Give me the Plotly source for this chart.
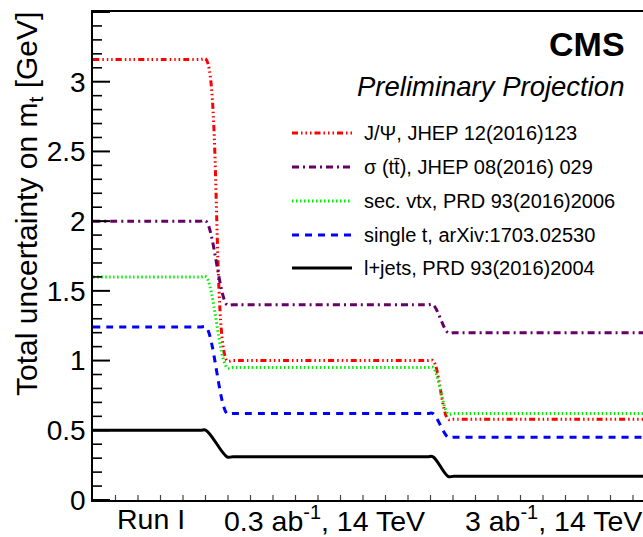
import plotly.graph_objects as go

# ---------------- data ----------------
categories = ["Run I", "0.3 ab<sup>-1</sup>, 14 TeV", "3 ab<sup>-1</sup>, 14 TeV"]
cat_pos = [0.58, 2.31, 4.60]          # label positions on x axis
x_start, x_end = 0.0, 5.6
trans1 = [1.13, 1.34]                   # Run I -> 0.3 ab-1 step
trans2 = [3.40, 3.55]                   # 0.3 ab-1 -> 3 ab-1 step
ease = 0.06                              # corner rounding length

y_major = [0.0, 0.5, 1.0, 1.5, 2.0, 2.5, 3.0, 3.5]
y_minor = [round(0.1 * i, 1) for i in range(36) if i % 5 != 0]
x_minor = [round(0.225 * i, 3) for i in range(1, 25)]

names = [
    "J/Ψ, JHEP 12(2016)123",
    "σ (tt̄), JHEP 08(2016) 029",
    "sec. vtx, PRD 93(2016)2006",
    "single t, arXiv:1703.02530",
    "l+jets, PRD 93(2016)2004",
]
jpsi = [3.16, 1.00, 0.58]
sigma_tt = [2.00, 1.40, 1.20]
sec_vtx = [1.60, 0.95, 0.62]
single_t = [1.24, 0.62, 0.45]
l_jets = [0.50, 0.31, 0.17]
series = [jpsi, sigma_tt, sec_vtx, single_t, l_jets]

colors = ["#ff0000", "#660066", "#00ee00", "#0000ff", "#000000"]
dashes = ["6px,3px,1.5px,3px,1.5px,3px,1.5px,3px", "7px,4px,2px,4px", "1.5px,2.5px", "7px,6px", "solid"]
widths = [3, 3, 3, 3, 3]

FONT = "Liberation Sans, Arial, Helvetica, sans-serif"

fig = go.Figure()
for name, vals, c, d, w in zip(names, series, colors, dashes, widths):
    xs = [x_start, trans1[0] - ease, trans1[0], trans1[1], trans1[1] + ease,
          trans2[0] - ease, trans2[0], trans2[1], trans2[1] + ease, x_end]
    ys = [vals[0], vals[0], vals[0], vals[1], vals[1],
          vals[1], vals[1], vals[2], vals[2], vals[2]]
    fig.add_trace(go.Scatter(x=xs, y=ys, mode="lines", name=name,
                             line=dict(color=c, dash=d, width=w, shape="spline", smoothing=1.0),
                             showlegend=False, hoverinfo="skip"))

# pixel helpers for layout placement
top, bottom = 12, 500
L, W = 93, 550
def py(p):
    return (bottom - p) / (bottom - top)
def px(p):
    return (p - L) / W

# axis tick marks (ROOT style, inside the frame)
for v in y_major:
    fig.add_shape(type="line", xref="paper", yref="y", x0=0, x1=17 / W, y0=v, y1=v,
                  line=dict(color="black", width=2), layer="above")
for v in y_minor:
    fig.add_shape(type="line", xref="paper", yref="y", x0=0, x1=9 / W, y0=v, y1=v,
                  line=dict(color="black", width=1.6), layer="above")
for v in x_minor:
    fig.add_shape(type="line", xref="x", yref="paper", x0=v, x1=v, y0=0, y1=5 / (bottom - top),
                  line=dict(color="#444444", width=1.2), layer="above")

# manual legend
leg_y = [133, 167, 201, 235, 268]
for name, c, d, w, yy in zip(names, colors, dashes, widths, leg_y):
    fig.add_shape(type="line", xref="paper", yref="paper",
                  x0=px(292), x1=px(352), y0=py(yy), y1=py(yy),
                  line=dict(color=c, dash=d, width=w))
    fig.add_annotation(xref="paper", yref="paper", x=px(362), y=py(yy), text=name,
                       showarrow=False, xanchor="left", yanchor="middle",
                       font=dict(family=FONT, size=20, color="black"))

fig.add_annotation(xref="paper", yref="paper", x=px(627), y=py(44), text="<b>CMS</b>",
                   showarrow=False, xanchor="right", yanchor="middle",
                   font=dict(family=FONT, size=34, color="black"))
fig.add_annotation(xref="paper", yref="paper", x=px(626), y=py(87), text="<i>Preliminary Projection</i>",
                   showarrow=False, xanchor="right", yanchor="middle",
                   font=dict(family=FONT, size=27.5, color="black"))
fig.add_annotation(xref="paper", yref="paper", x=px(28), y=py(10),
                   text="Total uncertainty on m<sub>t</sub> [GeV]",
                   showarrow=False, textangle=-90, xanchor="center", yanchor="top",
                   font=dict(family=FONT, size=30, color="black"))

# category labels under the axis
for lab, pos in zip(categories, cat_pos):
    fig.add_annotation(xref="x", yref="paper", x=pos, y=py(519), text=lab,
                       showarrow=False, xanchor="center", yanchor="middle",
                       font=dict(family=FONT, size=28.5, color="black"))

fig.update_layout(
    width=643, height=537,
    margin=dict(l=93, r=0, t=12, b=37),
    paper_bgcolor="white", plot_bgcolor="white",
    font=dict(family=FONT, color="black"),
    xaxis=dict(range=[x_start, 5.5], showticklabels=False, automargin=False, ticks="",
               showgrid=False, zeroline=False, showline=True, linecolor="black",
               linewidth=1.5, mirror=True),
    yaxis=dict(range=[0, 3.5], tickmode="array", tickvals=y_major[:-1], ticks="",
               showgrid=False, zeroline=False,
               showline=True, linecolor="black", linewidth=1.5, automargin=False,
               showticklabels=True, tickfont=dict(family=FONT, size=28)),
)

fig.write_html("out.html", config={"displayModeBar": False},
               post_script="document.body.style.margin='0';document.body.style.overflow='hidden';")
